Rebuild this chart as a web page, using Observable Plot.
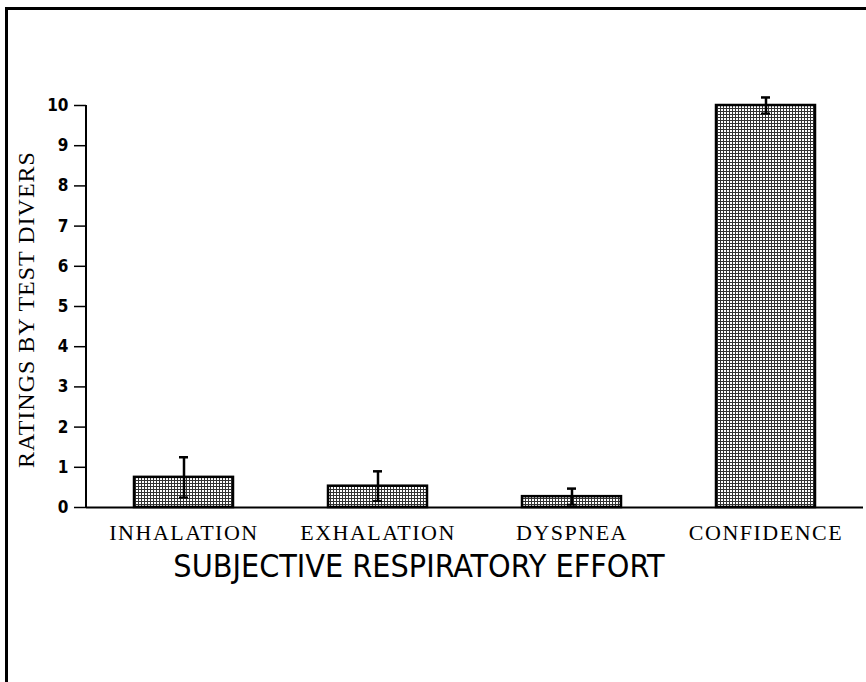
<!DOCTYPE html>
<html>
<head>
<meta charset="utf-8">
<script src="https://cdn.jsdelivr.net/npm/d3@7"></script>
<script src="https://cdn.jsdelivr.net/npm/@observablehq/plot@0.6"></script>
<style>
  html, body { margin: 0; padding: 0; background: #fff; }
  #wrap { position: relative; width: 866px; height: 682px; overflow: hidden; }
  #top-border { position: absolute; left: 5px; top: 7px; width: 861px; height: 3px; background: #000; }
  #left-border { position: absolute; left: 5px; top: 7px; width: 3px; height: 675px; background: #000; }
  svg { display: block; }
</style>
</head>
<body>
<div id="wrap">
  <div id="chart"></div>
  <div id="top-border"></div>
  <div id="left-border"></div>
</div>
<script>
const categories = ["INHALATION", "EXHALATION", "DYSPNEA", "CONFIDENCE"];
const means = [0.75, 0.53, 0.27, 10.0];
const errors = [0.5, 0.37, 0.2, 0.2];
const yTicks = [0, 1, 2, 3, 4, 5, 6, 7, 8, 9, 10];
const yTitle = "RATINGS BY TEST DIVERS";
const xTitle = "SUBJECTIVE RESPIRATORY EFFORT";

const rows = categories.map((c, i) => ({
  cat: c, mean: means[i], lo: means[i] - errors[i], hi: means[i] + errors[i]
}));

const serif = "'Liberation Serif', 'DejaVu Serif', serif";
const narrow = "'Liberation Sans Narrow', 'DejaVu Sans Condensed', 'Liberation Sans', sans-serif";

// y-axis spine drawn through the y scale
function ySpine(index, scales, values, dims) {
  const g = d3.create("svg:g");
  g.append("line")
    .attr("x1", dims.marginLeft).attr("x2", dims.marginLeft)
    .attr("y1", scales.y(yTicks[0])).attr("y2", scales.y(yTicks[yTicks.length - 1]))
    .attr("stroke", "#000").attr("stroke-width", 2);
  return g.node();
}

const chart = Plot.plot({
  width: 866,
  height: 682,
  marginLeft: 86,
  marginRight: 3,
  marginTop: 105,
  marginBottom: 175,
  style: { background: "#fff", overflow: "visible" },
  x: { domain: categories, paddingInner: 0.49, paddingOuter: 0.24, label: null },
  y: { domain: [0, 10], label: null },
  marks: [
    Plot.barY(rows, { x: "cat", y: "mean", fill: "url(#mesh)", stroke: "#000", strokeWidth: 2.5 }),
    Plot.ruleX(rows, { x: "cat", y1: "lo", y2: "hi", stroke: "#000", strokeWidth: 2.5 }),
    Plot.tickY(rows, { x: "cat", y: "hi", stroke: "#000", strokeWidth: 2.5, insetLeft: 45, insetRight: 45 }),
    Plot.tickY(rows, { x: "cat", y: "lo", stroke: "#000", strokeWidth: 2, insetLeft: 45, insetRight: 45 }),
    Plot.ruleY([0], { stroke: "#000", strokeWidth: 2 }),
    Plot.axisY({ ticks: yTicks, tickSize: 12, tickPadding: 6, tickFormat: d => String(d),
      fontSize: 17, fontWeight: "bold", fontFamily: narrow, stroke: "#000", strokeWidth: 1.5, label: null }),
    ySpine,
    Plot.axisX({ tickSize: 0, tickPadding: 17, fontSize: 22, fontFamily: serif, label: null }),
    Plot.text([yTitle], { frameAnchor: "left", textAnchor: "middle", dx: -60, dy: 3, rotate: -90, fontSize: 24, fontFamily: serif, fill: "#000" }),
    Plot.text([xTitle], { frameAnchor: "bottom", textAnchor: "middle", dx: -56, dy: 69, fontSize: 32, fontFamily: narrow, fill: "#000" })
  ]
});

// pattern for the bars' fine mesh fill
const defs = d3.select(chart).insert("defs", ":first-child");
const pat = defs.append("pattern").attr("id", "mesh").attr("patternUnits", "userSpaceOnUse")
  .attr("width", 3).attr("height", 3);
pat.append("rect").attr("width", 3).attr("height", 3).attr("fill", "#fff");
pat.append("rect").attr("width", 3).attr("height", 1).attr("fill", "#333");
pat.append("rect").attr("width", 1).attr("height", 3).attr("fill", "#333");

d3.select(chart).selectAll("g[aria-label='x-axis tick label'] text").style("letter-spacing", "1.5px");
d3.select(chart).selectAll("g[aria-label='text'] text").filter(function() { return this.textContent === yTitle; })
  .style("letter-spacing", "1px");

document.getElementById("chart").appendChild(chart);
</script>
</body>
</html>
